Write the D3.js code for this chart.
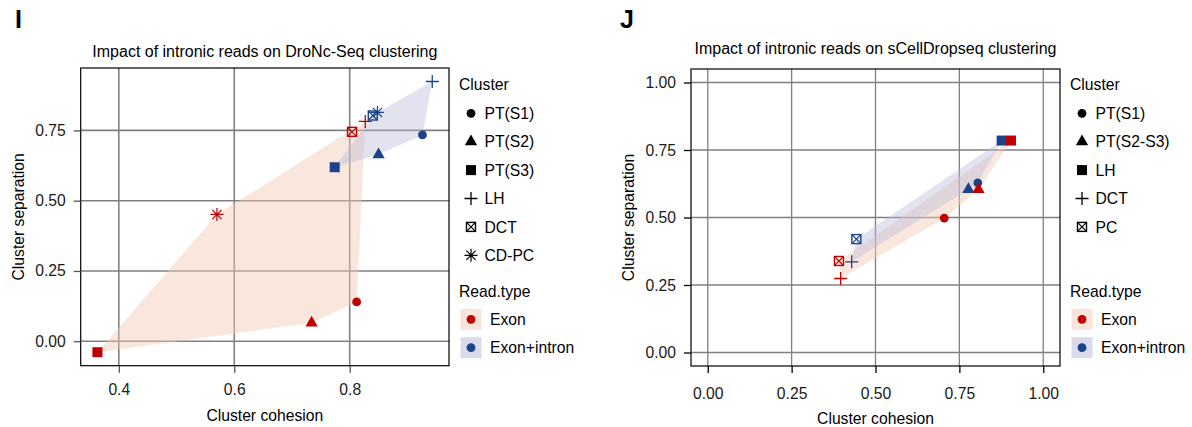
<!DOCTYPE html>
<html>
<head>
<meta charset="utf-8">
<script src="https://cdn.jsdelivr.net/npm/d3@7"></script>
<style>
  body { margin: 0; background: #fff; }
  svg { font-family: "Liberation Sans", Arial, sans-serif; }
</style>
</head>
<body>
<svg id="chart" width="1192" height="427"></svg>
<script>
// ---- data ----
// panel I : DroNc-Seq
var dronClusters = ["PT(S1)", "PT(S2)", "PT(S3)", "LH", "DCT", "CD-PC"];
var dronShapes = ["circle", "triangle", "square", "plus", "boxx", "asterisk"];
var dronExonCohesion = [0.812, 0.734, 0.363, 0.827, 0.804, 0.570];
var dronExonSeparation = [0.140, 0.065, -0.039, 0.782, 0.745, 0.451];
var dronIntronCohesion = [0.926, 0.850, 0.774, 0.943, 0.840, 0.848];
var dronIntronSeparation = [0.734, 0.664, 0.619, 0.924, 0.803, 0.814];
var dronXTicks = [0.4, 0.6, 0.8];
var dronXLabels = ["0.4", "0.6", "0.8"];
var dronYTicks = [0, 0.25, 0.5, 0.75];
var dronYLabels = ["0.00", "0.25", "0.50", "0.75"];

// panel J : sCellDropseq
var scdClusters = ["PT(S1)", "PT(S2-S3)", "LH", "DCT", "PC"];
var scdShapes = ["circle", "triangle", "square", "plus", "boxx"];
var scdExonCohesion = [0.705, 0.807, 0.904, 0.396, 0.391];
var scdExonSeparation = [0.498, 0.604, 0.785, 0.274, 0.339];
var scdIntronCohesion = [0.805, 0.777, 0.876, 0.429, 0.443];
var scdIntronSeparation = [0.628, 0.604, 0.785, 0.336, 0.420];
var scdTicks = [0, 0.25, 0.5, 0.75, 1];
var scdLabels = ["0.00", "0.25", "0.50", "0.75", "1.00"];

var readTypes = ["Exon", "Exon+intron"];
var pointColors = ["#c00000", "#1b438b"];
var hullColors = ["#f2c9b3", "#b8bad9"];
var keyColors = ["#f8e4da", "#d9daeb"];

var fontSize = 15.7;
var svg = d3.select("#chart");

// draw one marker shape at (0,0)
function drawShape(g, shape, color) {
    if (shape === "circle") {
        g.append("circle").attr("r", 4.4).attr("fill", color);
    } else if (shape === "triangle") {
        g.append("path").attr("d", d3.symbol(d3.symbolTriangle, 66)()).attr("fill", color);
    } else if (shape === "square") {
        g.append("rect").attr("x", -5).attr("y", -5).attr("width", 10).attr("height", 10).attr("fill", color);
    } else if (shape === "plus") {
        g.append("path").attr("d", "M-6.5,0H6.5M0,-6.5V6.5")
            .attr("stroke", color).attr("stroke-width", 1.3).attr("fill", "none");
    } else if (shape === "boxx") {
        g.append("rect").attr("x", -4.5).attr("y", -4.5).attr("width", 9).attr("height", 9)
            .attr("stroke", color).attr("stroke-width", 1.4).attr("fill", "none");
        g.append("path").attr("d", "M-4.5,-4.5L4.5,4.5M4.5,-4.5L-4.5,4.5")
            .attr("stroke", color).attr("stroke-width", 1.2).attr("fill", "none");
    } else if (shape === "asterisk") {
        g.append("path").attr("d", "M-6.5,0H6.5M0,-6.5V6.5M-4.6,-4.6L4.6,4.6M4.6,-4.6L-4.6,4.6")
            .attr("stroke", color).attr("stroke-width", 1.2).attr("fill", "none");
    }
}

function drawPanel(cfg) {
    var x = d3.scaleLinear().domain(cfg.xDomain).range([cfg.left, cfg.right]);
    var y = d3.scaleLinear().domain(cfg.yDomain).range([cfg.bottom, cfg.top]);
    var g = svg.append("g");

    // panel letter and title
    g.append("text").attr("x", cfg.letterX).attr("y", 28)
        .attr("font-size", 25).attr("font-weight", "bold").text(cfg.letter);
    g.append("text").attr("x", (cfg.left + cfg.right) / 2).attr("y", cfg.titleY)
        .attr("text-anchor", "middle").attr("font-size", 16).text(cfg.title);

    // grid
    g.selectAll(".gx").data(cfg.xTicks).enter().append("line")
        .attr("x1", function (d) { return x(d) }).attr("x2", function (d) { return x(d) })
        .attr("y1", cfg.top).attr("y2", cfg.bottom)
        .attr("stroke", "#808080").attr("stroke-width", cfg.gridWidth);
    g.selectAll(".gy").data(cfg.yTicks).enter().append("line")
        .attr("y1", function (d) { return y(d) }).attr("y2", function (d) { return y(d) })
        .attr("x1", cfg.left).attr("x2", cfg.right)
        .attr("stroke", "#808080").attr("stroke-width", cfg.gridWidth);

    // hulls, one per read type
    var series = [
        { coh: cfg.exonX, sep: cfg.exonY },
        { coh: cfg.intronX, sep: cfg.intronY }
    ];
    series.forEach(function (s, k) {
        var pts = s.coh.map(function (c, i) { return [x(c), y(s.sep[i])] });
        var hull = d3.polygonHull(pts);
        g.append("path").attr("d", "M" + hull.join("L") + "Z")
            .attr("fill", hullColors[k]).attr("fill-opacity", k === 0 ? 0.45 : 0.4);
    });

    // points: exon+intron first, exon on top
    [1, 0].forEach(function (k) {
        var s = series[k];
        s.coh.forEach(function (c, i) {
            var pg = g.append("g").attr("transform", "translate(" + x(c) + "," + y(s.sep[i]) + ")");
            drawShape(pg, cfg.shapes[i], pointColors[k]);
        });
    });

    // frame
    g.append("rect").attr("x", cfg.left).attr("y", cfg.top)
        .attr("width", cfg.right - cfg.left).attr("height", cfg.bottom - cfg.top)
        .attr("fill", "none").attr("stroke", "#000").attr("stroke-width", 1.2);

    // axes
    var xAxis = g.append("g").attr("transform", "translate(0," + cfg.bottom + ")")
        .call(d3.axisBottom(x).tickValues(cfg.xTicks).tickSize(7).tickPadding(cfg.xPad)
            .tickFormat(function (d, i) { return cfg.xLabels[i] }));
    var yAxis = g.append("g").attr("transform", "translate(" + cfg.left + ",0)")
        .call(d3.axisLeft(y).tickValues(cfg.yTicks).tickSize(7).tickPadding(cfg.yPad)
            .tickFormat(function (d, i) { return cfg.yLabels[i] }));
    [xAxis, yAxis].forEach(function (a) {
        a.select(".domain").remove();
        a.selectAll(".tick line").attr("stroke", cfg.tickColor).attr("stroke-width", 1.3);
        a.selectAll(".tick text").attr("font-size", fontSize).attr("fill", "#1a1a1a")
            .attr("font-family", "Liberation Sans, Arial, sans-serif");
    });

    // axis titles
    g.append("text").attr("x", (cfg.left + cfg.right) / 2).attr("y", cfg.xTitleY)
        .attr("text-anchor", "middle").attr("font-size", fontSize).text("Cluster cohesion");
    g.append("text").attr("transform", "translate(" + cfg.yTitleX + "," + ((cfg.top + cfg.bottom) / 2) + ") rotate(-90)")
        .attr("text-anchor", "middle").attr("font-size", fontSize).text("Cluster separation");

    // legend
    var lg = g.append("g").attr("transform", "translate(" + cfg.legendX + ",0)");
    lg.append("text").attr("x", 0).attr("y", 90).attr("font-size", fontSize).text("Cluster");
    cfg.clusters.forEach(function (name, i) {
        var cy = 113.3 + i * 28.4;
        var sg = lg.append("g").attr("transform", "translate(12," + cy + ")");
        drawShape(sg, cfg.shapes[i], "#000");
        lg.append("text").attr("x", 25.5).attr("y", cy + 5.6).attr("font-size", fontSize).text(name);
    });
    lg.append("text").attr("x", 0).attr("y", 297).attr("font-size", fontSize).text("Read.type");
    readTypes.forEach(function (name, k) {
        var cy = 319.3 + k * 28.4;
        lg.append("rect").attr("x", 1.5).attr("y", cy - 10.5).attr("width", 21).attr("height", 21)
            .attr("fill", keyColors[k]);
        lg.append("circle").attr("cx", 12).attr("cy", cy).attr("r", 4.4).attr("fill", pointColors[k]);
        lg.append("text").attr("x", 31).attr("y", cy + 5.6).attr("font-size", fontSize).text(name);
    });
}

drawPanel({
    letter: "I", letterX: 15, title: "Impact of intronic reads on DroNc-Seq clustering", titleY: 57,
    left: 80.7, right: 449, top: 68, bottom: 365.7,
    xDomain: [0.334, 0.972], yDomain: [-0.087, 0.972],
    xTicks: dronXTicks, xLabels: dronXLabels, yTicks: dronYTicks, yLabels: dronYLabels,
    exonX: dronExonCohesion, exonY: dronExonSeparation,
    intronX: dronIntronCohesion, intronY: dronIntronSeparation,
    clusters: dronClusters, shapes: dronShapes,
    gridWidth: 1.6, tickColor: "#555", xPad: 11, yPad: 8,
    xTitleY: 420.5, yTitleX: 23.5, legendX: 459
});

drawPanel({
    letter: "J", letterX: 620, title: "Impact of intronic reads on sCellDropseq clustering", titleY: 54,
    left: 691, right: 1060, top: 69, bottom: 366,
    xDomain: [-0.05, 1.05], yDomain: [-0.05, 1.05],
    xTicks: scdTicks, xLabels: scdLabels, yTicks: scdTicks, yLabels: scdLabels,
    exonX: scdExonCohesion, exonY: scdExonSeparation,
    intronX: scdIntronCohesion, intronY: scdIntronSeparation,
    clusters: scdClusters, shapes: scdShapes,
    gridWidth: 1.3, tickColor: "#000", xPad: 15, yPad: 8,
    xTitleY: 423.5, yTitleX: 633.5, legendX: 1070
});
</script>
</body>
</html>
